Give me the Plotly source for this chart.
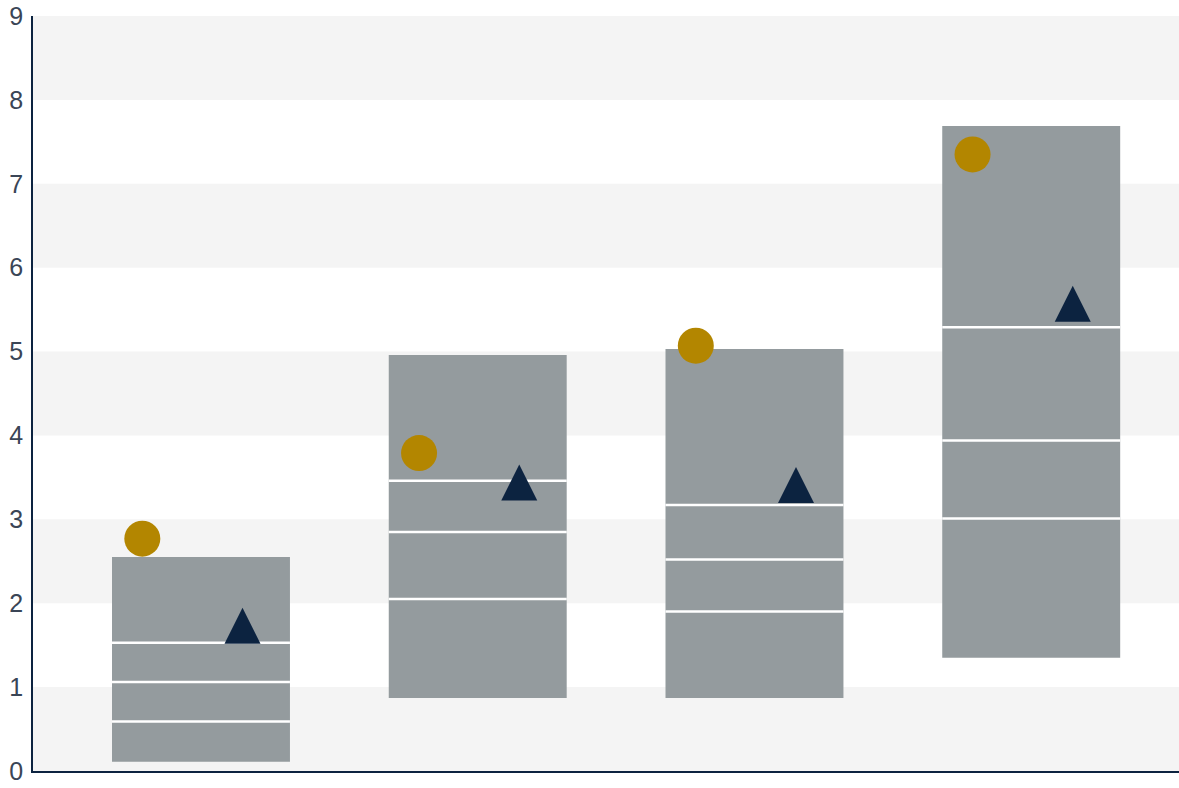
import plotly.graph_objects as go

# ---- data ----
categories = ["Group 1", "Group 2", "Group 3", "Group 4"]
range_low = [0.11, 0.87, 0.87, 1.35]
range_high = [2.55, 4.96, 5.03, 7.69]
quartile_low = [0.59, 2.05, 1.90, 3.01]
median = [1.06, 2.85, 2.52, 3.94]
quartile_high = [1.53, 3.46, 3.17, 5.29]
circle_values = [2.77, 3.79, 5.07, 7.35]
triangle_values = [1.73, 3.44, 3.41, 5.57]
y_ticks = [0, 1, 2, 3, 4, 5, 6, 7, 8, 9]

# ---- style ----
W, H = 1179, 788
M_L, M_R, M_T, M_B = 33, 0, 16, 17
X_RANGE = [-0.607, 3.534]
Y_RANGE = [0, 9]
BAR_W = 0.643
CIRCLE_DX = -0.212
TRI_DX = 0.15
MARKER_PX = 36
NAVY = "#0c2340"
GOLD = "#b38600"
BAR_C = "#949b9e"
BAND_C = "#f4f4f4"
FONT = "Liberation Sans, Arial, sans-serif"
LABEL_C = "#3a4556"

plot_w = W - M_L - M_R
plot_h = H - M_T - M_B
px_per_x = plot_w / (X_RANGE[1] - X_RANGE[0])
px_per_y = plot_h / (Y_RANGE[1] - Y_RANGE[0])

xs = list(range(len(categories)))

fig = go.Figure()

# floating range bars
fig.add_trace(go.Bar(
    x=xs,
    y=[h - l for h, l in zip(range_high, range_low)],
    base=range_low,
    width=BAR_W,
    marker=dict(color=BAR_C, line=dict(width=0)),
    hoverinfo="skip",
    showlegend=False,
))

# white quartile / median lines (line-ew symbol is 1.4 * size long)
line_size = BAR_W * px_per_x / 1.4
for series in (quartile_low, median, quartile_high):
    fig.add_trace(go.Scatter(
        x=xs, y=series, mode="markers",
        marker=dict(symbol="line-ew", size=line_size,
                    line=dict(color="white", width=2.5)),
        hoverinfo="skip", showlegend=False,
    ))

# circles
fig.add_trace(go.Scatter(
    x=[x + CIRCLE_DX for x in xs], y=circle_values, mode="markers",
    marker=dict(symbol="circle", size=MARKER_PX, color=GOLD, line=dict(width=0)),
    showlegend=False,
))

# triangles (arrow-up symbol has its apex at the anchor; shift by half height)
tri_shift = (MARKER_PX / 2) / px_per_y
fig.add_trace(go.Scatter(
    x=[x + TRI_DX for x in xs], y=[v + tri_shift for v in triangle_values],
    mode="markers",
    marker=dict(symbol="arrow-up", size=MARKER_PX, color=NAVY, line=dict(width=0)),
    customdata=triangle_values,
    hovertemplate="%{customdata}<extra></extra>",
    showlegend=False,
))

# alternating bands
shapes = []
for i in range(0, len(y_ticks) - 1, 2):
    shapes.append(dict(type="rect", xref="paper", yref="y",
                       x0=0, x1=1, y0=y_ticks[i], y1=y_ticks[i + 1],
                       fillcolor=BAND_C, line=dict(width=0), layer="below"))

fig.update_layout(
    width=W, height=H,
    margin=dict(l=M_L, r=M_R, t=M_T, b=M_B, pad=0, autoexpand=False),
    paper_bgcolor="white", plot_bgcolor="white",
    shapes=shapes,
    font=dict(family=FONT, size=25, color=LABEL_C),
    xaxis=dict(range=X_RANGE, showticklabels=False, showgrid=False, zeroline=False,
               showline=True, linecolor=NAVY, linewidth=2, ticks="", automargin=False),
    yaxis=dict(range=Y_RANGE, tickvals=y_ticks, showgrid=False, zeroline=False,
               showline=True, linecolor=NAVY, linewidth=1.5, ticks="",
               ticklabelstandoff=3, automargin=False,
               tickfont=dict(family=FONT, size=25, color=LABEL_C)),
)

fig.write_html(
    "out.html",
    config={"displayModeBar": False},
    post_script="document.body.style.margin='0';document.body.style.overflow='hidden';",
)
